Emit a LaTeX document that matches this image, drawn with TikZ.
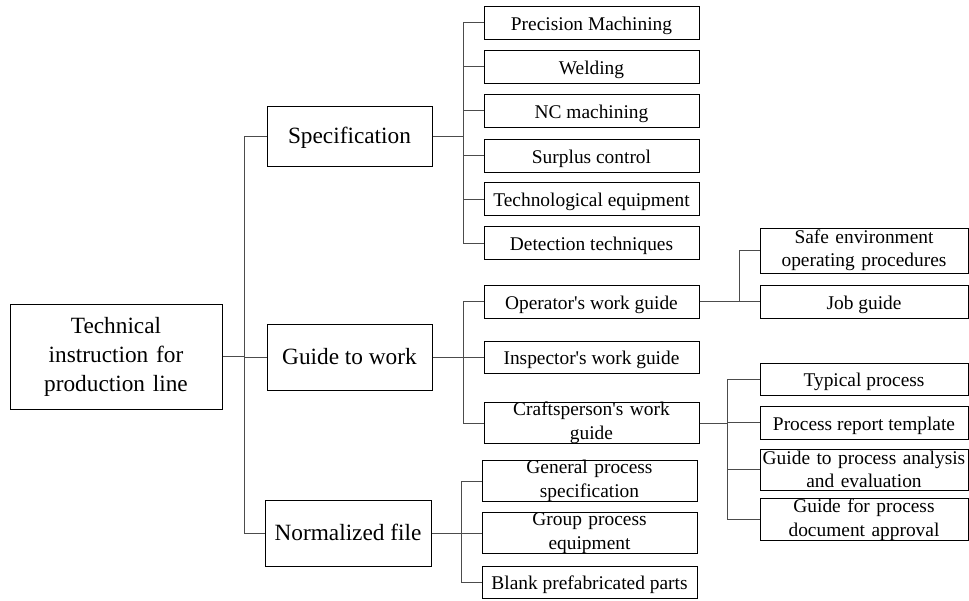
\documentclass[tikz,border=0pt]{standalone}
\usepackage{fontspec}
\setmainfont{Liberation Serif}
\begin{document}
\begin{tikzpicture}[x=1pt,y=-1pt,
    bigbox/.style={draw,line width=1pt,inner sep=0pt,align=center,font=\fontsize{23.3}{29}\selectfont},
    bigone/.style={bigbox,text height=22,text depth=8},
    leaf/.style={draw,line width=1pt,inner sep=0pt,align=center,font=\fontsize{19.4}{23.5}\selectfont},
    leafone/.style={leaf,text height=20,text depth=5},
    link/.style={draw=black!70,line width=1pt}]
    \useasboundingbox (0,0) rectangle (969,600);
    % root and second level
    \node[bigbox,minimum width=212,minimum height=105,text width=200] (root) at (116,356.5) {Technical\\instruction for\\production line};
    \node[bigone,minimum width=165,minimum height=60] (spec) at (349.5,136) {Specification};
    \node[bigone,minimum width=165,minimum height=66] (guide) at (349.5,357) {Guide to work};
    \node[bigone,minimum width=166,minimum height=66] (norm) at (348,533) {Normalized file};
    % specification
    \node[leafone,minimum width=215,minimum height=33] (sp1) at (591.5,22.5) {Precision Machining};
    \node[leafone,minimum width=215,minimum height=33] (sp2) at (591.5,66.5) {Welding};
    \node[leafone,minimum width=215,minimum height=33] (sp3) at (591.5,110.5) {NC machining};
    \node[leafone,minimum width=215,minimum height=33] (sp4) at (591.5,155.5) {Surplus control};
    \node[leafone,minimum width=215,minimum height=33] (sp5) at (591.5,199) {Technological equipment};
    \node[leafone,minimum width=215,minimum height=33] (sp6) at (591.5,243) {Detection techniques};
    % guide to work
    \node[leafone,minimum width=215,minimum height=33] (op) at (591.5,301.5) {Operator\textquotesingle s work guide};
    \node[leafone,minimum width=215,minimum height=32] (insp) at (591.5,357) {Inspector\textquotesingle s work guide};
    \node[leaf,minimum width=215,minimum height=38,text width=215] (craft) at (591.5,423) {Craftsperson\textquotesingle s work\\guide};
    % normalized file
    \node[leaf,minimum width=215,minimum height=38,text width=215] (nf1) at (589.5,481) {General process\\specification};
    \node[leaf,minimum width=215,minimum height=38,text width=215] (nf2) at (589.5,533) {Group process\\equipment};
    \node[leafone,minimum width=215,minimum height=32] (nf3) at (589.5,582) {Blank prefabricated parts};
    % operator's work guide
    \node[leaf,minimum width=208,minimum height=45,text width=208] (op1) at (864,250.5) {Safe environment\\operating procedures};
    \node[leafone,minimum width=208,minimum height=33] (op2) at (864,301.5) {Job guide};
    % craftsperson's work guide
    \node[leafone,minimum width=208,minimum height=32] (cr1) at (864,379) {Typical process};
    \node[leafone,minimum width=208,minimum height=33] (cr2) at (864,422.5) {Process report template};
    \node[leaf,minimum width=208,minimum height=41,text width=208] (cr3) at (864,469.5) {Guide to process analysis\\and evaluation};
    \node[leaf,minimum width=208,minimum height=39,text width=208] (cr4) at (864,519.5) {Guide for process\\document approval};
    % junctions
    \coordinate (j0) at (244,356.5);
    \coordinate (j1) at (463,136);
    \coordinate (j2) at (463,357);
    \coordinate (j3) at (461,533);
    \coordinate (j4) at (739,301.5);
    \coordinate (j5) at (727,423);
    % connectors
    \draw[link] (root.east)--(j0);
    \foreach \n in {spec,guide,norm} \draw[link] (\n.west) -| (j0);
    \draw[link] (spec.east)--(j1);
    \foreach \n in {sp1,sp2,sp3,sp4,sp5,sp6} \draw[link] (\n.west) -| (j1);
    \draw[link] (guide.east)--(j2);
    \foreach \n in {op,insp,craft} \draw[link] (\n.west) -| (j2);
    \draw[link] (norm.east)--(j3);
    \foreach \n in {nf1,nf2,nf3} \draw[link] (\n.west) -| (j3);
    \draw[link] (op.east)--(j4);
    \foreach \n in {op1,op2} \draw[link] (\n.west) -| (j4);
    \draw[link] (craft.east)--(j5);
    \foreach \n in {cr1,cr2,cr3,cr4} \draw[link] (\n.west) -| (j5);
\end{tikzpicture}
\end{document}
